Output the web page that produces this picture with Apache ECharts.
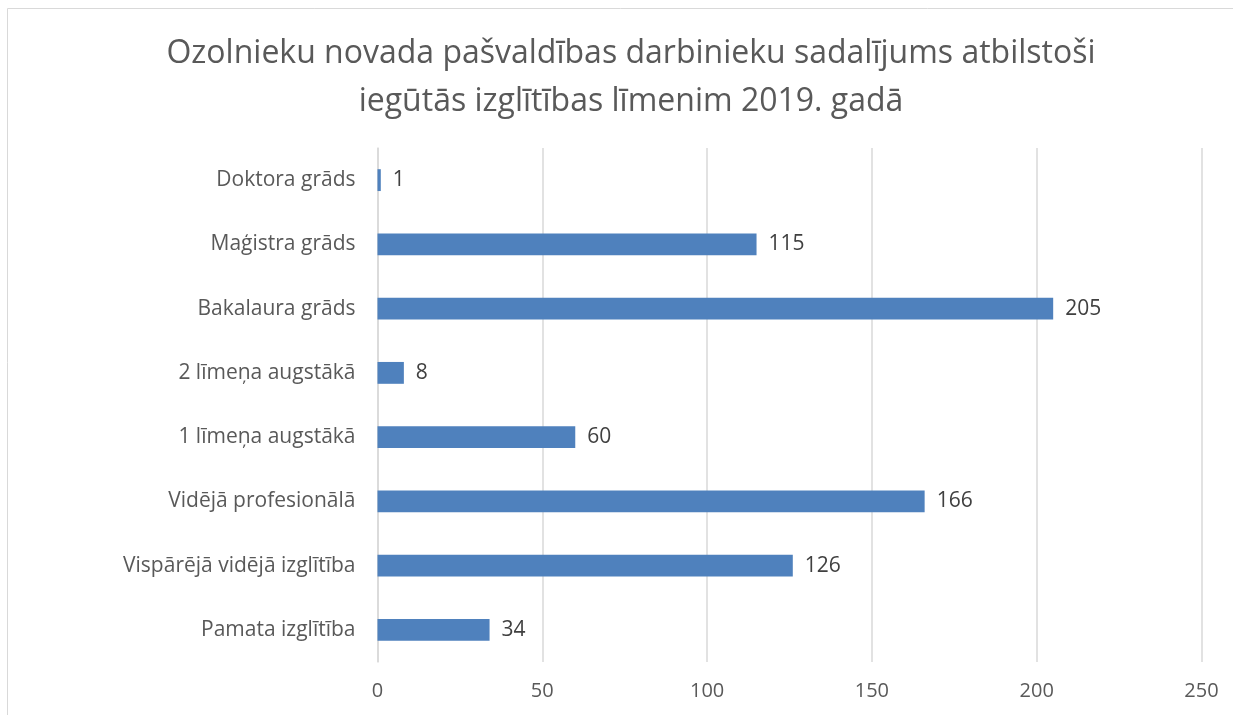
<!DOCTYPE html>
<html><head><meta charset="utf-8">
<script src="https://cdn.jsdelivr.net/npm/echarts@6/dist/echarts.min.js"></script>
<style>html,body{margin:0;padding:0;background:#fff}#c{width:1233px;height:715px}</style>
</head><body><div id="c"></div>
<script>
const categories = ["Pamata izglītība","Vispārējā vidējā izglītība","Vidējā profesionālā","1 līmeņa augstākā","2 līmeņa augstākā","Bakalaura grāds","Maģistra grāds","Doktora grāds"];
const values = [34,126,166,60,8,205,115,1];
const titleText = "Ozolnieku novada pašvaldības darbinieku sadalījums atbilstoši\niegūtās izglītības līmenim 2019. gadā";
const font = "'Open Sans', sans-serif";
const chart = echarts.init(document.getElementById('c'));
chart.setOption({
  animation:false,
  graphic:[{type:'rect',shape:{x:7.5,y:8.5,width:1240,height:720},style:{fill:'none',stroke:'#d9d9d9',lineWidth:1},silent:true}],
  title:{text:titleText,left:626,textAlign:'center',top:25,textStyle:{fontFamily:font,fontSize:32,fontWeight:'normal',color:'#595959',lineHeight:48}},
  grid:{left:377.5,right:31.5,top:148,bottom:53,containLabel:false},
  xAxis:{type:'value',min:0,max:250,interval:50,
    axisLine:{show:false},axisTick:{show:false},
    axisLabel:{fontFamily:font,fontSize:20,color:'#595959',margin:19},
    splitLine:{lineStyle:{color:'#d9d9d9',width:1.5}}},
  yAxis:{type:'category',data:categories,
    axisLine:{show:true,lineStyle:{color:'#d9d9d9',width:1.5}},axisTick:{show:false},
    axisLabel:{fontFamily:font,fontSize:21,color:'#595959',margin:22}},
  series:[{type:'bar',data:values,barWidth:'34%',
    itemStyle:{color:'#4f81bd'},
    label:{show:true,position:'right',distance:12,fontFamily:font,fontSize:21,color:'#404040'}}]
});
</script></body></html>
